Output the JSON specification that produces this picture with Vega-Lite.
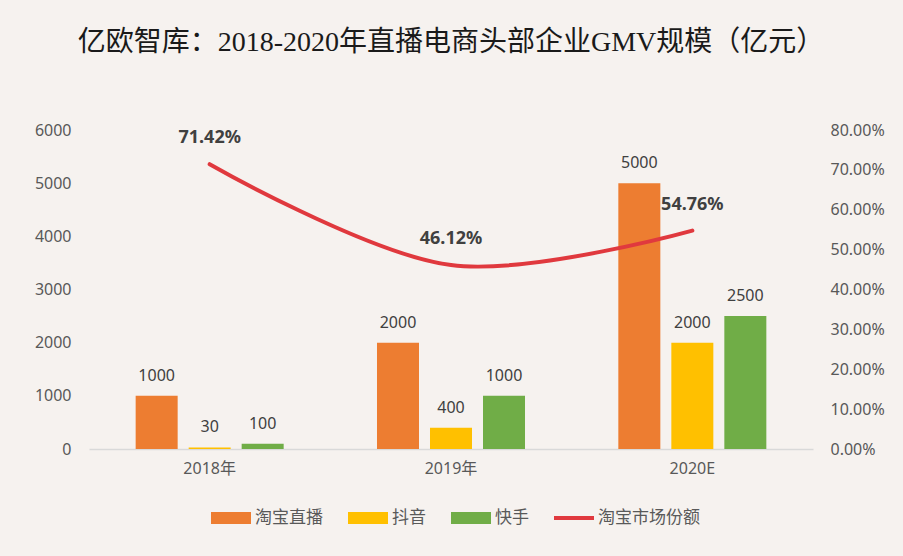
{
  "$schema": "https://vega.github.io/schema/vega-lite/v6.json",
  "width": 724,
  "height": 319,
  "autosize": {"type": "none"},
  "padding": {"left": 89, "top": 130, "right": 90, "bottom": 107},
  "background": "#F6F2EF",
  "title": {
    "text": "亿欧智库：2018-2020年直播电商头部企业GMV规模（亿元）",
    "font": "'Liberation Serif', 'Noto Sans CJK SC'",
    "fontSize": 28,
    "fontWeight": "normal",
    "color": "#1a1a1a",
    "anchor": "middle",
    "offset": 65
  },
  "config": {
    "view": {"stroke": null},
    "axis": {
      "labelFont": "'Noto Sans', 'Noto Sans CJK SC'",
      "labelColor": "#595959",
      "labelFontSize": 16,
      "ticks": false,
      "domain": false,
      "grid": false,
      "title": null
    },
    "legend": {
      "orient": "none",
      "legendX": 122,
      "legendY": 368,
      "direction": "horizontal",
      "title": null,
      "padding": 0,
      "symbolType": "M-1,-0.3H1V0.3H-1Z",
      "symbolSize": 1600,
      "symbolStrokeWidth": 0,
      "labelFont": "'Noto Sans CJK SC'",
      "labelFontSize": 17,
      "labelColor": "#595959",
      "labelOffset": 4,
      "columnPadding": 25
    }
  },
  "datasets": {
    "gmv": [
      {"year": "2018年", "series": "淘宝直播", "value": 1000},
      {"year": "2018年", "series": "抖音", "value": 30},
      {"year": "2018年", "series": "快手", "value": 100},
      {"year": "2019年", "series": "淘宝直播", "value": 2000},
      {"year": "2019年", "series": "抖音", "value": 400},
      {"year": "2019年", "series": "快手", "value": 1000},
      {"year": "2020E", "series": "淘宝直播", "value": 5000},
      {"year": "2020E", "series": "抖音", "value": 2000},
      {"year": "2020E", "series": "快手", "value": 2500}
    ],
    "share": [
      {"year": "2018年", "share": 0.7142},
      {"year": "2019年", "share": 0.4612},
      {"year": "2020E", "share": 0.5476}
    ]
  },
  "layer": [
    {
      "data": {"name": "gmv"},
      "encoding": {
        "x": {
          "field": "year",
          "type": "nominal",
          "sort": ["2018年", "2019年", "2020E"],
          "scale": {"paddingInner": 0.3867, "paddingOuter": 0.19335},
          "axis": {
            "labelAngle": 0,
            "domain": true,
            "domainColor": "#D9D9D9",
            "domainWidth": 1.5,
            "labelPadding": 11
          }
        },
        "xOffset": {
          "field": "series",
          "type": "nominal",
          "sort": ["淘宝直播", "抖音", "快手"],
          "scale": {"paddingInner": 0.2075, "paddingOuter": 0}
        },
        "y": {
          "field": "value",
          "type": "quantitative",
          "scale": {"domain": [0, 6000]},
          "axis": {
            "orient": "left",
            "values": [0, 1000, 2000, 3000, 4000, 5000, 6000],
            "format": "d",
            "labelPadding": 18
          }
        }
      },
      "layer": [
        {
          "mark": {"type": "bar"},
          "encoding": {
            "color": {
              "field": "series",
              "type": "nominal",
              "scale": {
                "domain": ["淘宝直播", "抖音", "快手", "淘宝市场份额"],
                "range": ["#ED7D31", "#FFC000", "#70AD47", "#E0393E"]
              },
              "legend": {
                "encode": {
                  "symbols": {
                    "update": {
                      "shape": {"signal": "datum.value === '淘宝市场份额' ? 'M-1,-0.1H1V0.1H-1Z' : 'M-1,-0.3H1V0.3H-1Z'"},
                      "fill": {"scale": "color", "field": "value"},
                      "strokeWidth": {"value": 0},
                      "opacity": {"value": 1}
                    }
                  }
                }
              }
            }
          }
        },
        {
          "mark": {"type": "text", "dy": -20, "baseline": "middle", "fontSize": 16, "color": "#404040", "font": "'Noto Sans'"},
          "encoding": {
            "text": {"field": "value", "type": "quantitative", "format": "d"}
          }
        }
      ]
    },
    {
      "data": {"name": "share"},
      "encoding": {
        "x": {
          "field": "year",
          "type": "nominal",
          "sort": ["2018年", "2019年", "2020E"]
        },
        "y": {
          "field": "share",
          "type": "quantitative",
          "scale": {"domain": [0, 0.8]},
          "axis": {
            "orient": "right",
            "values": [0, 0.1, 0.2, 0.3, 0.4, 0.5, 0.6, 0.7, 0.8],
            "format": ".2%",
            "labelPadding": 17
          }
        }
      },
      "layer": [
        {
          "mark": {"type": "line", "interpolate": "catmull-rom", "strokeWidth": 4, "strokeCap": "round"},
          "encoding": {
            "color": {"datum": "淘宝市场份额", "type": "nominal"}
          }
        },
        {
          "mark": {"type": "text", "dy": -26, "baseline": "middle", "fontSize": 18, "fontWeight": "bold", "color": "#404040", "font": "'Noto Sans'"},
          "encoding": {
            "text": {"field": "share", "type": "quantitative", "format": ".2%"}
          }
        }
      ]
    }
  ],
  "resolve": {"scale": {"y": "independent"}}
}
